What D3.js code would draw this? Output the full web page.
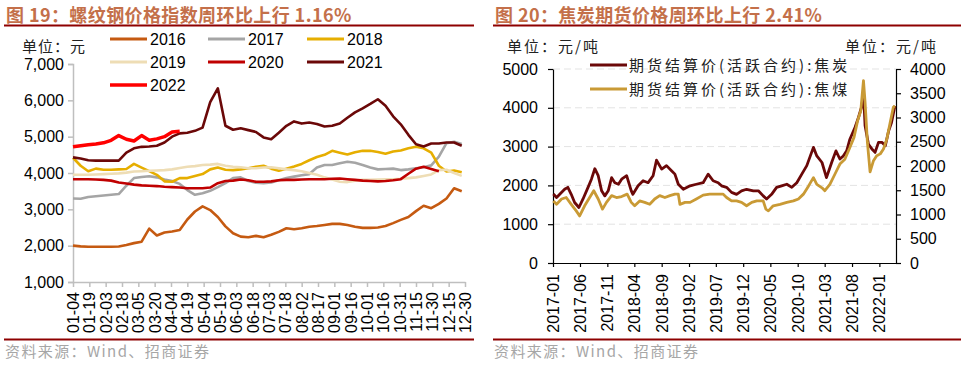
<!DOCTYPE html>
<html><head><meta charset="utf-8">
<script src="https://cdn.jsdelivr.net/npm/d3@7/dist/d3.min.js"></script>
<style>
body{margin:0;background:#fff}
svg{display:block}
text{font-family:"Liberation Sans",Arial,sans-serif}
.cjk{font-family:"Noto Sans CJK SC","Liberation Sans",sans-serif}
</style>
</head><body>
<svg id="c" width="970" height="366"></svg>
<script>
// ---------- LEFT CHART DATA (weekly, day-of-year starting 01-04) ----------
const leftTickLabels = ["01-04","01-19","02-03","02-18","03-05","03-20","04-04","04-19","05-04","05-19","06-03","06-18","07-03","07-18","08-02","08-17","09-01","09-16","10-01","10-16","10-31","11-15","11-30","12-15","12-30"];
const leftYTicks = [1000,2000,3000,4000,5000,6000,7000];
const yearNames = ["2016","2017","2018","2019","2020","2021","2022"];
const yearColors = ["#C55A11","#A5A5A5","#E6AE00","#EEDDB5","#C00000","#6B0808","#FF0000"];
const s2016 = [2000,1980,1970,1970,1970,1970,1975,2020,2070,2110,2470,2280,2360,2390,2430,2720,2940,3080,2980,2790,2530,2340,2250,2230,2270,2230,2300,2380,2480,2450,2480,2520,2540,2570,2600,2600,2570,2520,2490,2490,2500,2540,2620,2710,2790,2950,3100,3030,3150,3300,3580,3500];
const s2017 = [3300,3290,3340,3360,3380,3400,3420,3650,3860,3890,3910,3880,3820,3780,3700,3530,3400,3440,3510,3610,3720,3860,3880,3780,3730,3720,3740,3800,3860,3900,3940,3970,4150,4220,4220,4270,4310,4280,4220,4150,4100,4110,4120,4080,4100,4130,4160,4210,4450,4820,4860,4800];
const s2018 = [4420,4200,4050,4120,4090,4090,4100,4110,4250,4150,4050,3950,3770,3760,3860,3860,3920,3970,4100,4150,4090,4080,4100,4130,4170,4200,4120,4060,4120,4180,4250,4350,4440,4500,4610,4560,4510,4570,4610,4610,4580,4530,4590,4620,4680,4720,4680,4560,4200,4040,4070,4020];
const s2019 = [3950,3950,3950,3960,3970,3980,3990,4010,4040,4050,4060,4070,4080,4100,4140,4170,4190,4220,4230,4250,4200,4170,4160,4130,4130,4150,4160,4130,4100,4080,4050,4000,3950,3880,3820,3760,3750,3790,3810,3810,3820,3830,3830,3840,3860,3880,3920,3960,4080,4090,4000,3920];
const s2020 = [3830,3830,3830,3820,3810,3790,3740,3710,3680,3660,3650,3640,3620,3610,3600,3580,3580,3580,3600,3720,3780,3790,3820,3800,3760,3760,3770,3800,3810,3810,3820,3830,3830,3830,3840,3850,3830,3810,3790,3780,3770,3780,3800,3830,3980,4120,4170,4110,4050];
const s2021 = [4430,4400,4350,4340,4340,4340,4340,4560,4680,4720,4730,4750,4840,5000,5090,5110,5160,5250,5950,6330,5300,5190,5230,5180,5130,4980,4930,5110,5300,5420,5360,5390,5350,5280,5300,5360,5520,5670,5780,5900,6030,5850,5560,5340,5050,4790,4730,4810,4810,4840,4840,4750];
const s2022 = [4720,4750,4780,4800,4830,4900,5030,4930,4880,5030,4900,4940,5000,5130,5150];
const leftSeries = [s2016,s2017,s2018,s2019,s2020,s2021,s2022];

// ---------- RIGHT CHART DATA ----------
const rightXTicks = ["2017-01","2017-06","2017-11","2018-04","2018-09","2019-02","2019-07","2019-12","2020-05","2020-10","2021-03","2021-08","2022-01"];
const rightYLeftTicks = [0,1000,2000,3000,4000,5000];
const rightYRightTicks = [0,500,1000,1500,2000,2500,3000,3500,4000];
const cokeDates = ["2017-01-03","2017-01-21","2017-02-09","2017-03-07","2017-03-25","2017-04-13","2017-05-02","2017-05-26","2017-06-18","2017-07-16","2017-08-04","2017-08-23","2017-09-11","2017-09-30","2017-10-18","2017-11-06","2017-11-25","2017-12-13","2018-01-02","2018-01-20","2018-02-17","2018-03-15","2018-03-24","2018-04-22","2018-05-20","2018-06-17","2018-07-15","2018-08-03","2018-09-01","2018-09-28","2018-10-26","2018-11-14","2018-12-03","2018-12-31","2019-02-07","2019-03-14","2019-04-21","2019-05-19","2019-06-16","2019-07-14","2019-08-02","2019-08-30","2019-09-27","2019-10-25","2019-11-22","2019-12-20","2020-01-27","2020-02-24","2020-03-22","2020-04-10","2020-05-08","2020-06-05","2020-07-03","2020-08-01","2020-08-29","2020-09-26","2020-10-24","2020-11-21","2020-12-28","2021-01-16","2021-02-14","2021-03-11","2021-04-09","2021-05-03","2021-05-25","2021-06-13","2021-07-02","2021-07-20","2021-08-18","2021-09-06","2021-09-25","2021-10-04","2021-10-13","2021-11-01","2021-11-20","2021-12-08","2021-12-27","2022-01-15","2022-02-03","2022-02-22","2022-03-10","2022-03-29"];
const cokeValues = [1780,1690,1780,1900,1950,1770,1560,1430,1650,1950,2160,2430,2250,1860,1730,1860,2200,2070,2030,2160,2250,1860,1770,1990,2120,2070,2250,2650,2420,2510,2380,2290,2030,1900,1990,2030,2070,2290,2120,2070,1990,1950,1820,1770,1860,1900,1860,1860,1730,1650,1770,1950,1990,2030,1950,2070,2290,2510,2980,2760,2590,2200,2590,2890,2680,2760,2890,3190,3500,3750,4050,4400,3540,3060,2940,2850,3110,3110,3020,3410,3620,4050];
const coalDates = ["2017-01-03","2017-01-21","2017-02-18","2017-03-16","2017-04-13","2017-05-11","2017-05-30","2017-06-27","2017-07-25","2017-08-17","2017-09-11","2017-10-05","2017-10-27","2017-11-25","2017-12-22","2018-01-20","2018-02-20","2018-03-15","2018-04-03","2018-05-01","2018-05-29","2018-06-26","2018-07-24","2018-08-21","2018-09-19","2018-10-17","2018-11-14","2018-12-03","2018-12-12","2019-01-10","2019-02-07","2019-03-14","2019-04-21","2019-05-28","2019-07-05","2019-08-11","2019-08-30","2019-09-27","2019-10-25","2019-11-22","2019-12-20","2020-01-18","2020-02-15","2020-03-22","2020-04-06","2020-04-20","2020-05-17","2020-06-24","2020-08-01","2020-09-07","2020-10-05","2020-11-02","2020-12-01","2020-12-28","2021-01-16","2021-02-14","2021-03-02","2021-03-30","2021-04-27","2021-05-25","2021-06-22","2021-07-20","2021-08-12","2021-09-01","2021-09-19","2021-10-04","2021-10-13","2021-10-26","2021-11-10","2021-11-29","2021-12-17","2022-01-06","2022-01-24","2022-02-12","2022-03-01","2022-03-20","2022-03-29"];
const coalValues = [1280,1210,1320,1350,1210,1075,970,1180,1350,1490,1320,1110,1250,1390,1350,1370,1420,1250,1180,1280,1250,1210,1320,1390,1350,1390,1420,1420,1210,1250,1250,1320,1400,1420,1420,1420,1350,1280,1280,1250,1180,1250,1280,1280,1110,1075,1180,1210,1250,1280,1320,1420,1590,1760,1620,1550,1490,1620,1830,2040,2140,2380,2590,2930,3140,3760,3310,2490,1880,2110,2210,2250,2350,2560,2870,3210,3240];
const rightNames = ["期货结算价(活跃合约):焦炭","期货结算价(活跃合约):焦煤"];
const rightColors = ["#6B0808","#C99A35"];

const svg = d3.select("#c");
const titleColor = "#C4704A", ruleColor = "#8E0000";

// ---------- Headers / footers ----------
function header(x0, x1, title){
  svg.append("text").attr("class","cjk").attr("x",x0+2).attr("y",21.5)
    .attr("font-size",18).attr("font-weight","bold").attr("letter-spacing",0.4).attr("fill",titleColor).text(title);
  svg.append("line").attr("x1",x0).attr("x2",x1).attr("y1",25.5).attr("y2",25.5)
    .attr("stroke",ruleColor).attr("stroke-width",2);
  svg.append("line").attr("x1",x0).attr("x2",x1).attr("y1",339.5).attr("y2",339.5)
    .attr("stroke",ruleColor).attr("stroke-width",2);
  svg.append("text").attr("class","cjk").attr("x",x0+1).attr("y",357)
    .attr("font-size",15).attr("fill","#A6A6A6").attr("letter-spacing",1.4).text("资料来源：Wind、招商证券");
}
header(4, 474, "图 19：螺纹钢价格指数周环比上行 1.16%");
header(493, 961, "图 20：焦炭期货价格周环比上行 2.41%");

// ---------- LEFT CHART ----------
const lx = d3.scaleLinear().domain([4, 364]).range([73, 465]);
const ly = d3.scaleLinear().domain([1000, 7000]).range([282, 64]);
const weekDay = d3.range(52).map(k => 4 + 7*k);

svg.append("text").attr("class","cjk").attr("x",22).attr("y",52).attr("font-size",15)
  .attr("letter-spacing",1).attr("fill","#222").text("单位：元");

const lyAxis = svg.append("g").attr("transform","translate(73,0)")
  .call(d3.axisLeft(ly).tickValues(leftYTicks).tickFormat(d3.format(",")).tickSize(5).tickPadding(4));
lyAxis.select(".domain").attr("stroke","#BFBFBF").attr("stroke-width",1.5);
lyAxis.selectAll(".tick line").attr("stroke","#BFBFBF").attr("stroke-width",1.5);
lyAxis.selectAll(".tick text").attr("font-size",16).attr("fill","#000").attr("font-family","Liberation Sans, Arial");

const tickDays = leftTickLabels.map((d,i)=>4+15*i);
const lxAxis = svg.append("g").attr("transform","translate(0,282)")
  .call(d3.axisBottom(lx).tickValues(tickDays).tickFormat((d,i)=>leftTickLabels[i]).tickSize(5).tickSizeOuter(0));
lxAxis.select(".domain").attr("stroke","#BFBFBF").attr("stroke-width",1.5);
lxAxis.selectAll(".tick line").attr("stroke","#BFBFBF").attr("stroke-width",1.5);
lxAxis.selectAll(".tick text").attr("font-size",16).attr("fill","#000").attr("font-family","Liberation Sans, Arial")
  .attr("text-anchor","end").attr("dy",null).attr("y",null)
  .attr("transform","translate(5.5,10) rotate(-90)");

const lline = d3.line().x((d,i)=>lx(weekDay[i])).y(d=>ly(d));
leftSeries.forEach((s,i)=>{
  svg.append("path").datum(s).attr("d",lline).attr("fill","none")
    .attr("stroke",yearColors[i]).attr("stroke-width", i===6?3.5:2.6).attr("stroke-linejoin","round");
});

// legend
const legPos = [[110,39],[208,39],[307,39],[110,62],[208,62],[307,62],[110,85]];
yearNames.forEach((n,i)=>{
  const [x,y] = legPos[i];
  svg.append("line").attr("x1",x).attr("x2",x+37).attr("y1",y).attr("y2",y)
    .attr("stroke",yearColors[i]).attr("stroke-width", i===6?3.5:3);
  svg.append("text").attr("x",x+40).attr("y",y+6).attr("font-size",16).attr("fill","#000").text(n);
});

// ---------- RIGHT CHART ----------
const parse = d3.timeParse("%Y-%m-%d");
const rx = d3.scaleTime().domain([parse("2017-01-01"), parse("2022-04-04")]).range([553, 896]);
const ryL = d3.scaleLinear().domain([0,5000]).range([263, 69]);
const ryR = d3.scaleLinear().domain([0,4000]).range([263, 69]);

svg.append("text").attr("class","cjk").attr("x",507).attr("y",52).attr("font-size",15)
  .attr("letter-spacing",2).attr("fill","#222").text("单位：元/吨");
svg.append("text").attr("class","cjk").attr("x",845).attr("y",52).attr("font-size",15)
  .attr("letter-spacing",2).attr("fill","#222").text("单位：元/吨");

// grid
svg.append("g").selectAll("line").data(rightYLeftTicks.filter(d=>d>0)).join("line")
  .attr("x1",553).attr("x2",896).attr("y1",d=>ryL(d)).attr("y2",d=>ryL(d))
  .attr("stroke","#E3E3E3").attr("stroke-width",1).attr("stroke-dasharray","7,4");

const ryLAxis = svg.append("g").attr("transform","translate(553,0)")
  .call(d3.axisLeft(ryL).tickValues(rightYLeftTicks).tickFormat(d3.format("d")).tickSize(5).tickPadding(10).tickSizeOuter(0));
const ryRAxis = svg.append("g").attr("transform","translate(896,0)")
  .call(d3.axisRight(ryR).tickValues(rightYRightTicks).tickFormat(d3.format("d")).tickSize(5).tickPadding(9).tickSizeOuter(0));
const rxTickDates = rightXTicks.map(s=>parse(s+"-01"));
const rxAxis = svg.append("g").attr("transform","translate(0,263)")
  .call(d3.axisBottom(rx).tickValues(rxTickDates).tickFormat((d,i)=>rightXTicks[i]).tickSize(4).tickSizeOuter(0));
[ryLAxis, ryRAxis, rxAxis].forEach(a=>{
  a.select(".domain").attr("stroke","#000").attr("stroke-width",1.2);
  a.selectAll(".tick line").attr("stroke","#000").attr("stroke-width",1.2);
  a.selectAll(".tick text").attr("font-size",16).attr("fill","#000").attr("font-family","Liberation Sans, Arial");
});
rxAxis.selectAll(".tick text").attr("text-anchor","end").attr("dy",null).attr("y",null)
  .attr("transform","translate(5.5,11) rotate(-90)");

const cokeLine = d3.line().x((d,i)=>rx(parse(cokeDates[i]))).y(d=>ryL(d));
const coalLine = d3.line().x((d,i)=>rx(parse(coalDates[i]))).y(d=>ryR(d));
svg.append("path").datum(cokeValues).attr("d",cokeLine).attr("fill","none")
  .attr("stroke",rightColors[0]).attr("stroke-width",2.8).attr("stroke-linejoin","round");
svg.append("path").datum(coalValues).attr("d",coalLine).attr("fill","none")
  .attr("stroke",rightColors[1]).attr("stroke-width",2.8).attr("stroke-linejoin","round");

// right legend
rightNames.forEach((n,i)=>{
  const y = 65 + i*24;
  svg.append("line").attr("x1",590).attr("x2",627).attr("y1",y).attr("y2",y)
    .attr("stroke",rightColors[i]).attr("stroke-width",3);
  svg.append("text").attr("class","cjk").attr("x",629).attr("y",y+5.5).attr("font-size",15)
    .attr("letter-spacing",3).attr("fill","#222").text(n);
});
</script>
</body></html>
